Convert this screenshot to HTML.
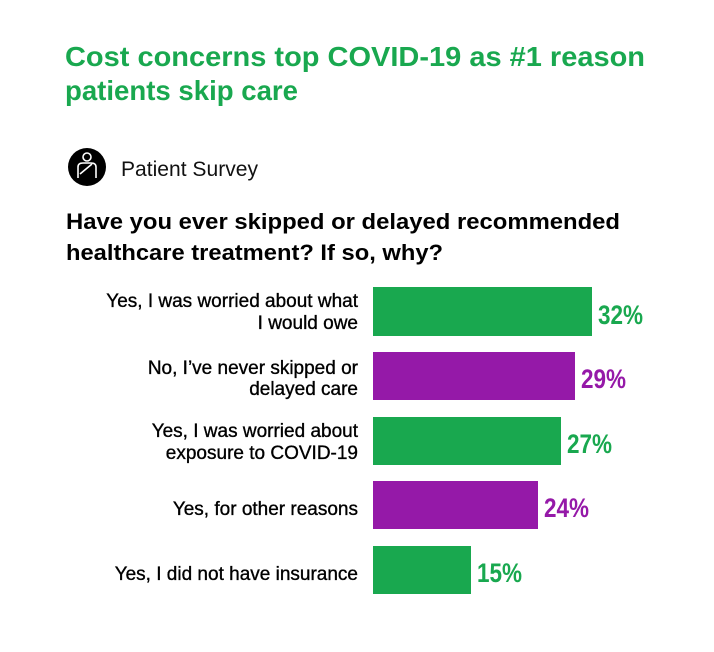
<!DOCTYPE html>
<html><head><meta charset="utf-8"><style>
html,body{margin:0;padding:0;background:#fff;}
svg{display:block;}
text{font-family:"Liberation Sans",sans-serif;}
</style></head><body>
<svg width="714" height="652" viewBox="0 0 714 652" xmlns="http://www.w3.org/2000/svg">
<rect width="714" height="652" fill="#fff"/>
<g fill="#19a84f" font-weight="bold" font-size="28">
<text x="65" y="66" textLength="580" lengthAdjust="spacingAndGlyphs">Cost concerns top COVID-19 as #1 reason</text>
<text x="65" y="100" textLength="233" lengthAdjust="spacingAndGlyphs">patients skip care</text>
</g>
<circle cx="87" cy="167" r="19" fill="#000"/>
<circle cx="87" cy="157" r="4" fill="none" stroke="#fff" stroke-width="1.6"/>
<path d="M78 178 L78 167 Q78 163 83 163 L91 163 Q96 163 96 167 L96 178" fill="none" stroke="#fff" stroke-width="1.6"/>
<path d="M80 174 L92 164" stroke="#fff" stroke-width="1.6"/>
<text x="121" y="176" font-size="21" fill="#111" textLength="137" lengthAdjust="spacingAndGlyphs">Patient Survey</text>
<g font-weight="bold" font-size="22" fill="#000">
<text x="66" y="229" textLength="554" lengthAdjust="spacingAndGlyphs">Have you ever skipped or delayed recommended</text>
<text x="66" y="260" textLength="377" lengthAdjust="spacingAndGlyphs">healthcare treatment? If so, why?</text>
</g>
<g font-size="19" fill="#000" text-anchor="end" stroke="#000" stroke-width="0.35">
<text x="358" y="307">Yes, I was worried about what</text>
<text x="358" y="329">I would owe</text>
<text x="358" y="374">No, I’ve never skipped or</text>
<text x="358" y="395">delayed care</text>
<text x="358" y="437">Yes, I was worried about</text>
<text x="358" y="459">exposure to COVID-19</text>
<text x="358" y="515">Yes, for other reasons</text>
<text x="358" y="580">Yes, I did not have insurance</text>
</g>
<rect x="373" y="287" width="219" height="49" fill="#19a84f"/>
<rect x="373" y="352" width="202" height="48" fill="#9519a8"/>
<rect x="373" y="417" width="188" height="48" fill="#19a84f"/>
<rect x="373" y="481" width="165" height="48" fill="#9519a8"/>
<rect x="373" y="546" width="98" height="48" fill="#19a84f"/>
<g font-weight="bold" font-size="27">
<text x="598" y="324" fill="#19a84f" textLength="45" lengthAdjust="spacingAndGlyphs">32%</text>
<text x="581" y="388" fill="#9519a8" textLength="45" lengthAdjust="spacingAndGlyphs">29%</text>
<text x="567" y="453" fill="#19a84f" textLength="45" lengthAdjust="spacingAndGlyphs">27%</text>
<text x="544" y="517" fill="#9519a8" textLength="45" lengthAdjust="spacingAndGlyphs">24%</text>
<text x="477" y="582" fill="#19a84f" textLength="45" lengthAdjust="spacingAndGlyphs">15%</text>
</g>
</svg>
</body></html>
